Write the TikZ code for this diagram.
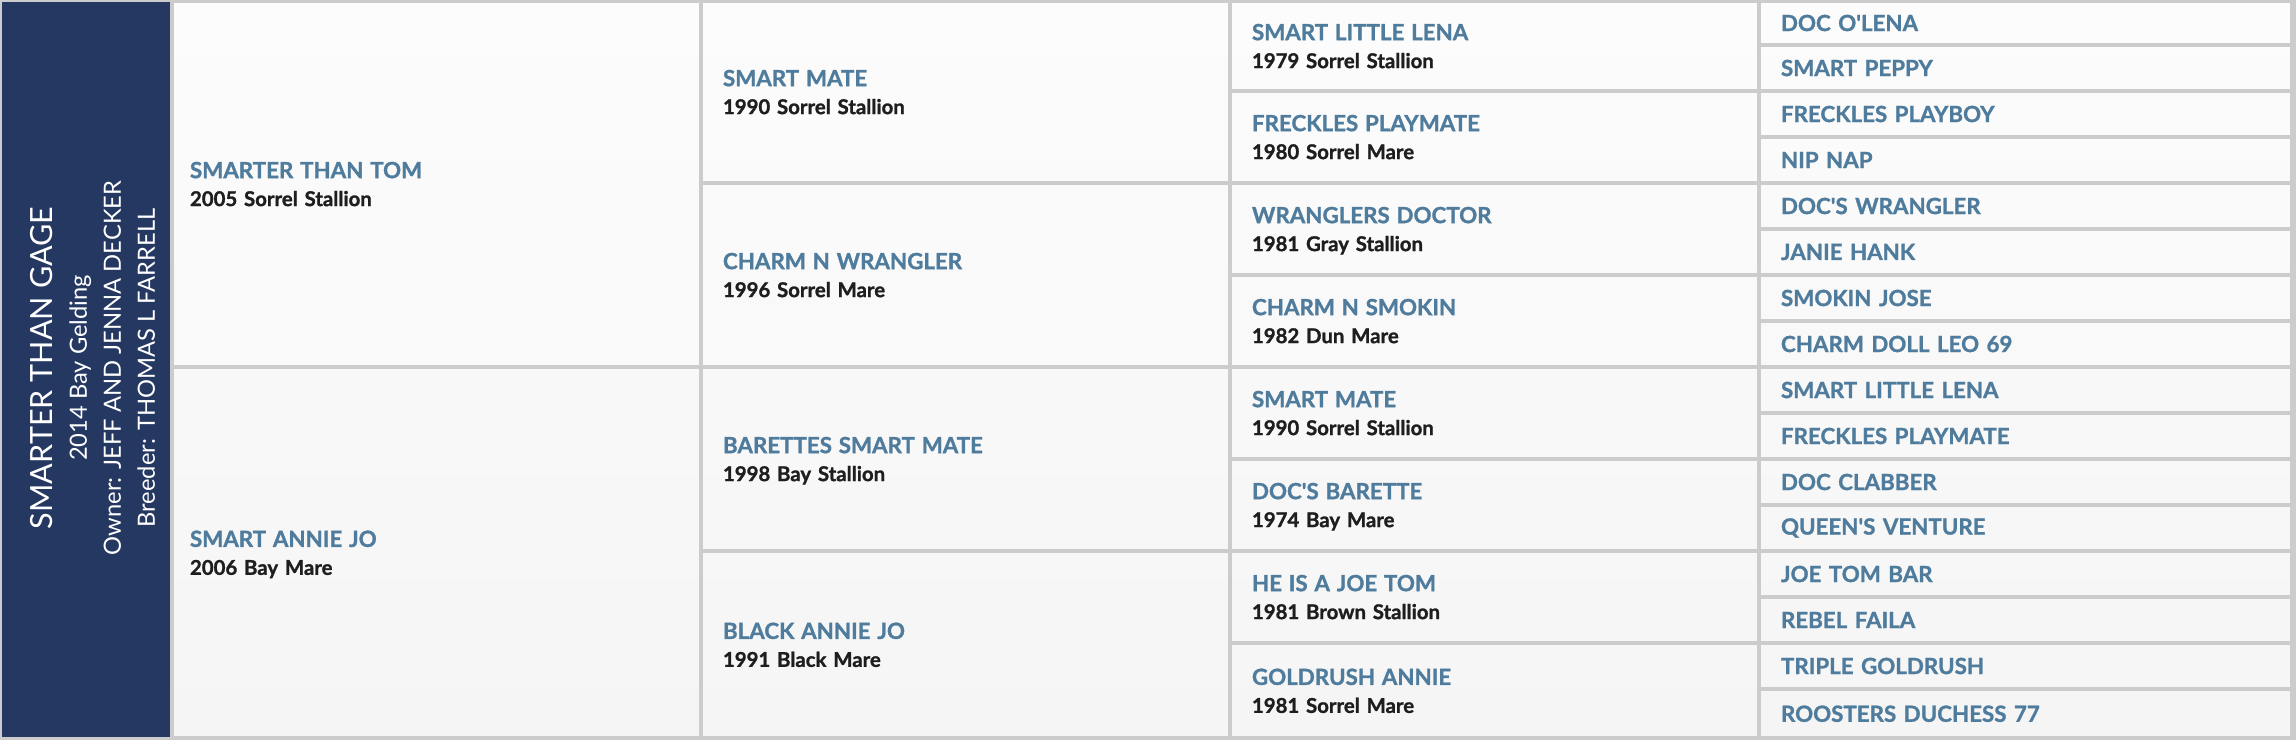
\documentclass[tikz,border=0pt]{standalone}
\usepackage{fontspec}
\setmainfont{Lato}[BoldFeatures={FakeBold=1.2}]
\usepackage{tikz}
\usetikzlibrary{positioning}

\definecolor{navy}{HTML}{243862}
\definecolor{steel}{HTML}{4F7C9D}
\definecolor{ink}{HTML}{1E1E1E}
\definecolor{rule}{HTML}{CCCCCC}
\definecolor{celltop}{HTML}{FCFCFC}
\definecolor{cellbot}{HTML}{F5F5F5}

% name over year line, year line without depth
\newcommand{\horse}[2]{\leavevmode{\fontsize{12.7}{15.9}\selectfont\color{steel}#1}\\\raisebox{0pt}[\height][0pt]{#2}}
\newcommand{\qt}{\textquotesingle}

\begin{document}
\begin{tikzpicture}[x=0.02cm, y=-0.02cm, outer sep=0pt,
		cell/.style={draw=rule, line width=0.08cm, anchor=north west, align=left, inner ysep=0pt,
			font=\bfseries\fontsize{11.6}{15.9}\selectfont, text=ink},
		gen1/.style={cell, minimum width=10.58cm, text width=9.86cm, inner xsep=0.36cm},
		gen2/.style={cell, minimum width=10.58cm, text width=9.7cm, inner xsep=0.44cm},
		gen3/.style={gen2},
		gen4/.style={cell, minimum width=10.67cm, text width=9.79cm, inner xsep=0.44cm,
			text=steel, font=\bfseries\fontsize{12.7}{15.9}\selectfont}]
	
	\useasboundingbox (0,0) rectangle (2296,740);
	\fill[rule] (0,0) rectangle (2296,740);
	\shade[top color=celltop, bottom color=cellbot] (172,1) rectangle (2292.5,738.5);
	
	% the horse itself
	\node[fill=navy, minimum width=3.36cm, minimum height=14.7cm, anchor=north west] (panel) at (2,2) {};
	\node[rotate=90, text=white, align=center, font=\fontsize{13.5}{19.35}\selectfont] (horse) at (93,368)
		{{\fontsize{17.4}{19.35}\selectfont SMARTER THAN GAGE}\\2014 Bay Gelding\\Owner: JEFF AND JENNA DECKER\\Breeder: THOMAS L FARRELL};
	
	% parents
	\node[gen1, minimum height=7.32cm] (s) at (172,1) {\horse{SMARTER THAN TOM}{2005 Sorrel Stallion}};
	\node[gen1, minimum height=7.43cm] (d) at (172,367) {\horse{SMART ANNIE JO}{2006 Bay Mare}};
	
	% grandparents
	\node[gen2, minimum height=3.64cm] (ss) at (701,1) {\horse{SMART MATE}{1990 Sorrel Stallion}};
	\node[gen2, minimum height=3.68cm] (sd) at (701,183) {\horse{CHARM N WRANGLER}{1996 Sorrel Mare}};
	\node[gen2, minimum height=3.68cm] (ds) at (701,367) {\horse{BARETTES SMART MATE}{1998 Bay Stallion}};
	\node[gen2, minimum height=3.75cm] (dd) at (701,551) {\horse{BLACK ANNIE JO}{1991 Black Mare}};
	
	% great grandparents
	\node[gen3, minimum height=1.8cm] (sss) at (1230,1) {\horse{SMART LITTLE LENA}{1979 Sorrel Stallion}};
	\node[gen3, minimum height=1.84cm] (ssd) at (1230,91) {\horse{FRECKLES PLAYMATE}{1980 Sorrel Mare}};
	\node[gen3, minimum height=1.84cm] (sds) at (1230,183) {\horse{WRANGLERS DOCTOR}{1981 Gray Stallion}};
	\node[gen3, minimum height=1.84cm] (sdd) at (1230,275) {\horse{CHARM N SMOKIN}{1982 Dun Mare}};
	\node[gen3, minimum height=1.84cm] (dss) at (1230,367) {\horse{SMART MATE}{1990 Sorrel Stallion}};
	\node[gen3, minimum height=1.84cm] (dsd) at (1230,459) {\horse{DOC\qt S BARETTE}{1974 Bay Mare}};
	\node[gen3, minimum height=1.84cm] (dds) at (1230,551) {\horse{HE IS A JOE TOM}{1981 Brown Stallion}};
	\node[gen3, minimum height=1.91cm] (ddd) at (1230,643) {\horse{GOLDRUSH ANNIE}{1981 Sorrel Mare}};
	
	% great great grandparents
	\node[gen4, minimum height=0.88cm] (ssss) at (1759,1) {DOC O\qt LENA};
	\node[gen4, minimum height=0.92cm] (sssd) at (1759,45) {SMART PEPPY};
	\node[gen4, minimum height=0.92cm] (ssds) at (1759,91) {FRECKLES PLAYBOY};
	\node[gen4, minimum height=0.92cm] (ssdd) at (1759,137) {NIP NAP};
	\node[gen4, minimum height=0.92cm] (sdss) at (1759,183) {DOC\qt S WRANGLER};
	\node[gen4, minimum height=0.92cm] (sdsd) at (1759,229) {JANIE HANK};
	\node[gen4, minimum height=0.92cm] (sdds) at (1759,275) {SMOKIN JOSE};
	\node[gen4, minimum height=0.92cm] (sddd) at (1759,321) {CHARM DOLL LEO 69};
	\node[gen4, minimum height=0.92cm] (dsss) at (1759,367) {SMART LITTLE LENA};
	\node[gen4, minimum height=0.92cm] (dssd) at (1759,413) {FRECKLES PLAYMATE};
	\node[gen4, minimum height=0.92cm] (dsds) at (1759,459) {DOC CLABBER};
	\node[gen4, minimum height=0.92cm] (dsdd) at (1759,505) {QUEEN\qt S VENTURE};
	\node[gen4, minimum height=0.92cm] (ddss) at (1759,551) {JOE TOM BAR};
	\node[gen4, minimum height=0.92cm] (ddsd) at (1759,597) {REBEL FAILA};
	\node[gen4, minimum height=0.92cm] (ddds) at (1759,643) {TRIPLE GOLDRUSH};
	\node[gen4, minimum height=0.99cm] (dddd) at (1759,689) {ROOSTERS DUCHESS 77};
\end{tikzpicture}
\end{document}
